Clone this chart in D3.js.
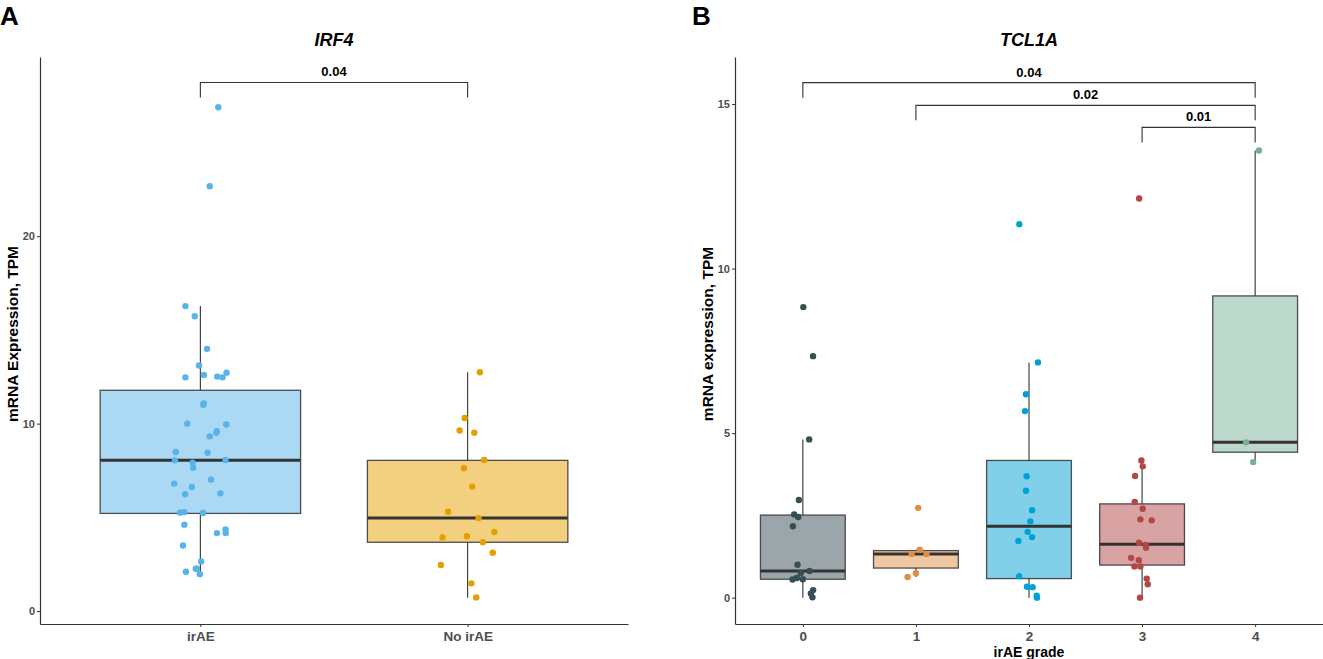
<!DOCTYPE html>
<html>
<head>
<meta charset="utf-8">
<script src="https://cdn.jsdelivr.net/npm/d3@7"></script>
<style>
  body { margin: 0; background: #fff; }
  text { font-family: "Liberation Sans Narrow", "Arial Narrow", "Liberation Sans", Arial, sans-serif; }
</style>
</head>
<body>
<svg id="chart" width="1323" height="659"></svg>
<script>
//---------------------------- DATA ----------------------------//
// Panel A - IRF4
const irf4Groups = ["irAE", "No irAE"];
const irf4Ticks = [0, 10, 20];
// [lower whisker, Q1, median, Q3, upper whisker]
const irf4Box = [
  [1.97, 5.21, 8.04, 11.78, 16.27],
  [0.71, 3.67, 4.96, 8.04, 12.74]
];
const irf4Values = [
  [26.88, 22.67, 16.27, 15.73, 13.99, 13.10, 12.47, 12.60, 12.51, 12.47, 12.72, 11.08, 11.01, 10.00,
   9.95, 9.59, 9.52, 9.32, 8.49, 8.45, 8.04, 8.06, 7.92, 7.65, 7.01, 6.80, 6.62, 6.23, 6.28, 5.25,
   5.28, 5.23, 4.61, 4.16, 4.36, 4.16, 3.50, 2.65, 2.26, 2.26, 2.10, 1.97],
  [12.74, 10.30, 9.63, 9.52, 8.06, 7.62, 6.64, 5.30, 4.96, 4.22, 3.93, 3.99, 3.67, 3.11, 2.46, 1.48, 0.73]
];
// horizontal jitter, in category units
const irf4Jitter = [
  [0.067, 0.035, -0.056, -0.021, 0.025, -0.005, -0.056, 0.013, 0.063, 0.083, 0.098, 0.013, 0.011, -0.049,
   0.097, 0.062, 0.060, 0.035, -0.092, 0.027, -0.095, 0.094, -0.029, -0.027, 0.040, -0.098, -0.032, -0.057,
   0.075, -0.076, -0.060, 0.010, -0.060, 0.062, 0.094, 0.095, -0.065, 0.003, -0.013, -0.017, -0.054, -0.002],
  [0.046, -0.011, -0.030, 0.025, 0.062, -0.014, 0.017, -0.073, 0.041, 0.100, -0.094, -0.003, 0.057, 0.094,
   -0.100, 0.014, 0.032]
];
const irf4Tests = [
  { a: "irAE", b: "No irAE", p: "0.04", y: 28.2 }
];

// Panel B - TCL1A
const tcl1aGroups = ["0", "1", "2", "3", "4"];
const tcl1aTicks = [0, 5, 10, 15];
const tcl1aBox = [
  [0.00, 0.56, 0.81, 2.51, 4.81],
  [0.63, 0.90, 1.33, 1.43, 1.46],
  [0.00, 0.58, 2.17, 4.17, 7.15],
  [0.00, 0.99, 1.62, 2.85, 4.16],
  [4.12, 4.42, 4.72, 9.17, 13.59]
];
const tcl1aValues = [
  [8.83, 7.34, 4.81, 2.97, 2.53, 2.45, 2.17, 1.00, 0.81, 0.75, 0.55, 0.60, 0.56, 0.23, 0.13, 0.01],
  [2.73, 1.46, 1.33, 1.33, 0.74, 0.63],
  [11.35, 7.15, 6.18, 5.67, 3.69, 3.25, 2.66, 2.32, 2.00, 1.84, 1.72, 0.65, 0.33, 0.32, 0.06, 0.00],
  [12.13, 4.17, 3.99, 3.70, 2.91, 2.70, 2.38, 2.35, 1.67, 1.60, 1.52, 1.21, 1.14, 0.95, 0.95, 0.58, 0.41, 0.00],
  [13.59, 4.72, 4.12]
];
const tcl1aJitter = [
  [0.004, 0.090, 0.056, -0.035, -0.077, -0.041, -0.088, -0.047, 0.059, -0.018, -0.091, -0.053, 0.000, 0.091, 0.071, 0.085],
  [0.020, 0.033, -0.038, 0.094, 0.000, -0.074],
  [-0.086, 0.079, -0.027, -0.035, -0.021, -0.027, 0.027, 0.012, -0.012, 0.027, -0.094, -0.088, -0.018, 0.032, 0.068, 0.071],
  [-0.026, -0.006, 0.006, -0.062, -0.065, 0.006, -0.015, 0.085, -0.027, 0.032, 0.035, -0.097, -0.029, -0.068, -0.015, 0.041, 0.050, -0.018],
  [0.034, -0.080, -0.018]
];
const tcl1aTests = [
  { a: "0", b: "4", p: "0.04", y: 15.65 },
  { a: "1", b: "4", p: "0.02", y: 14.96 },
  { a: "3", b: "4", p: "0.01", y: 14.29 }
];

//--------------------------- DRAWING --------------------------//
const svg = d3.select("#chart");
const plotTop = 57, plotBottom = 624;
const ink = "#333333";

function drawPanel(p) {
  const x = d3.scalePoint().domain(p.groups).range([p.left, p.right]).padding(0.6);
  const y = d3.scaleLinear().domain(p.yDomain).range([plotBottom, plotTop]);
  const boxW = x.step() * 0.75;
  const g = svg.append("g");

  // axes
  const yAxis = g.append("g")
    .attr("transform", "translate(" + p.left + ",0)")
    .call(d3.axisLeft(y).tickValues(p.ticks).tickSize(3).tickSizeOuter(0).tickPadding(2));
  const xAxis = g.append("g")
    .attr("transform", "translate(0," + plotBottom + ")")
    .call(d3.axisBottom(x).tickSize(3).tickSizeOuter(0).tickPadding(4));
  [yAxis, xAxis].forEach(function(a) {
    a.select(".domain").attr("stroke", ink).attr("stroke-width", 1.2);
    a.selectAll(".tick line").attr("stroke", ink).attr("stroke-width", 1);
  });
  yAxis.selectAll(".tick text")
    .attr("fill", "#4d4d4d").style("font-size", "11px").style("font-weight", "bold");
  xAxis.selectAll(".tick text")
    .attr("fill", "#4d4d4d").style("font-size", "13.5px").style("font-weight", "bold");

  // boxes
  const boxes = g.selectAll(".box")
    .data(p.box)
    .enter().append("g")
    .attr("class", "box");

  boxes.append("line")
    .attr("x1", function(d, i) { return x(p.groups[i]); })
    .attr("x2", function(d, i) { return x(p.groups[i]); })
    .attr("y1", function(d) { return y(d[4]); })
    .attr("y2", function(d) { return y(d[3]); })
    .attr("stroke", ink).attr("stroke-width", 1.1);
  boxes.append("line")
    .attr("x1", function(d, i) { return x(p.groups[i]); })
    .attr("x2", function(d, i) { return x(p.groups[i]); })
    .attr("y1", function(d) { return y(d[1]); })
    .attr("y2", function(d) { return y(d[0]); })
    .attr("stroke", ink).attr("stroke-width", 1.1);
  boxes.append("rect")
    .attr("x", function(d, i) { return x(p.groups[i]) - boxW / 2; })
    .attr("y", function(d) { return y(d[3]); })
    .attr("width", boxW)
    .attr("height", function(d) { return y(d[1]) - y(d[3]); })
    .attr("fill", function(d, i) { return p.fills[i]; })
    .attr("stroke", ink).attr("stroke-opacity", 0.85).attr("stroke-width", 1.3);
  boxes.append("line")
    .attr("x1", function(d, i) { return x(p.groups[i]) - boxW / 2; })
    .attr("x2", function(d, i) { return x(p.groups[i]) + boxW / 2; })
    .attr("y1", function(d) { return y(d[2]); })
    .attr("y2", function(d) { return y(d[2]); })
    .attr("stroke", ink).attr("stroke-width", 3);

  // jittered points
  p.values.forEach(function(vals, i) {
    g.selectAll(".pt" + i)
      .data(vals)
      .enter().append("circle")
      .attr("class", "pt" + i)
      .attr("cx", function(d, j) { return x(p.groups[i]) + p.jitter[i][j] * x.step(); })
      .attr("cy", function(d) { return y(d); })
      .attr("r", 3.2)
      .attr("fill", p.colors[i]);
  });

  // significance brackets
  const tip = 15;
  p.tests.forEach(function(t) {
    const x1 = x(t.a), x2 = x(t.b), yy = y(t.y);
    g.append("path")
      .attr("d", "M" + x1 + "," + (yy + tip) + "V" + yy + "H" + x2 + "V" + (yy + tip))
      .attr("fill", "none").attr("stroke", ink).attr("stroke-width", 1.1);
    g.append("text")
      .attr("x", (x1 + x2) / 2).attr("y", yy - 6)
      .attr("text-anchor", "middle")
      .style("font-size", "13px").style("font-weight", "bold")
      .text(t.p);
  });

  // titles
  g.append("text")
    .attr("x", (p.left + p.right) / 2).attr("y", 46)
    .attr("text-anchor", "middle")
    .style("font-size", "18px").style("font-weight", "bold").style("font-style", "italic")
    .text(p.title);
  g.append("text")
    .attr("transform", "translate(" + p.yLabX + ",334) rotate(-90)")
    .attr("text-anchor", "middle")
    .style("font-family", "'Liberation Sans', Arial, sans-serif")
    .style("font-size", "15.5px").style("font-weight", "bold")
    .text(p.yLabel);
  if (p.xLabel) {
    g.append("text")
      .attr("x", (p.left + p.right) / 2).attr("y", 657)
      .attr("text-anchor", "middle")
      .style("font-size", "14px").style("font-weight", "bold")
      .text(p.xLabel);
  }
  g.append("text")
    .attr("x", p.tagX).attr("y", 25)
    .style("font-family", "'Liberation Sans', Arial, sans-serif")
    .style("font-size", "26px").style("font-weight", "bold")
    .text(p.tag);
}

drawPanel({
  tag: "A", tagX: 0, title: "IRF4", yLabel: "mRNA Expression, TPM", yLabX: 18,
  left: 40, right: 628, yDomain: [-0.69, 29.56],
  groups: irf4Groups, ticks: irf4Ticks, box: irf4Box, values: irf4Values, jitter: irf4Jitter,
  tests: irf4Tests,
  colors: ["#56B4E9", "#E69F00"],
  fills: ["#ABD9F4", "#F3D080"]
});

drawPanel({
  tag: "B", tagX: 692, title: "TCL1A", yLabel: "mRNA expression, TPM", yLabX: 713,
  left: 735, right: 1323, yDomain: [-0.80, 16.43], xLabel: "irAE grade",
  groups: tcl1aGroups, ticks: tcl1aTicks, box: tcl1aBox, values: tcl1aValues, jitter: tcl1aJitter,
  tests: tcl1aTests,
  colors: ["#374E55", "#DF8F44", "#00A1D5", "#B24745", "#79AF97"],
  fills: ["#9BA6AA", "#EFC7A1", "#80D0EA", "#D8A3A2", "#BCD7CB"]
});
</script>
</body>
</html>
